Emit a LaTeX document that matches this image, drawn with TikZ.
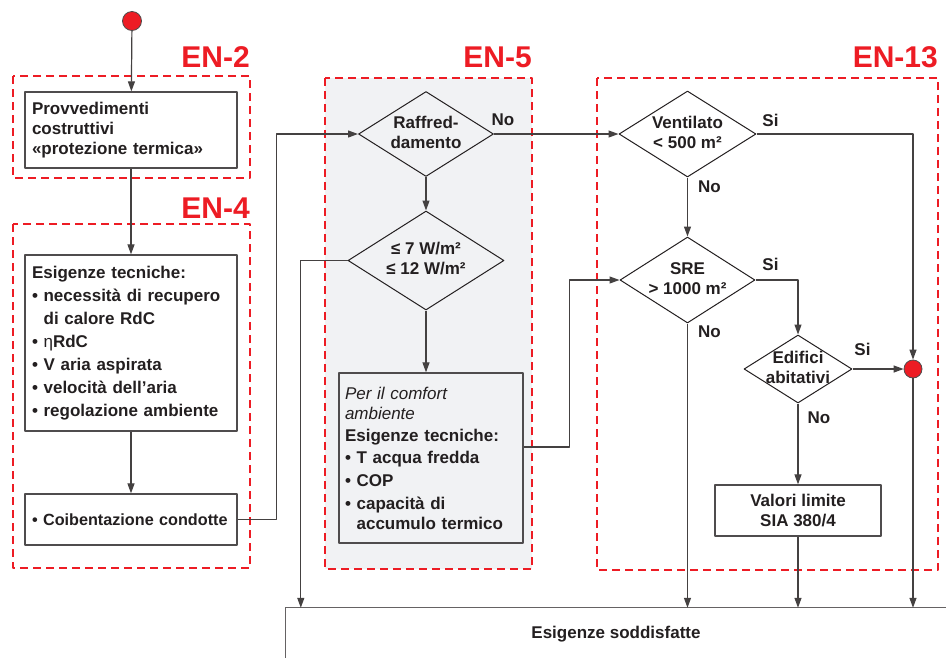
\documentclass[tikz,border=0pt]{standalone}
\usepackage{fontspec}
\setmainfont{Liberation Sans}
\usetikzlibrary{arrows.meta,shapes.geometric}
\definecolor{enred}{HTML}{ED1C24}
\definecolor{engray}{HTML}{F1F2F4}
\definecolor{ink}{HTML}{231F20}
\newcommand{\dtext}[1]{\makebox[0pt]{\begin{tabular}{@{}c@{}}#1\end{tabular}}}
\newcommand{\ind}{\hphantom{•\ }}
\begin{document}
\begin{tikzpicture}[x=1pt,y=-1pt,>={Triangle[length=10pt,width=7pt]},line join=round,
	font=\fontsize{17}{20}\selectfont\bfseries,text=ink,
	zone/.style={draw=enred,line width=2.6pt,dash pattern=on 8pt off 5pt},
	entag/.style={text=enred,font=\fontsize{30}{30}\selectfont\bfseries,anchor=base east,inner sep=0pt},
	box/.style={draw=ink!80,line width=1.3pt,rectangle,align=left,inner xsep=7pt,inner ysep=0pt},
	decision/.style={draw=ink,line width=1pt,diamond,inner sep=0pt},
	dot/.style={draw=ink!80,line width=0.8pt,circle,fill=enred,inner sep=0pt},
	flow/.style={draw=ink!85,line width=1.2pt},
	answer/.style={inner sep=0pt}]
	\useasboundingbox (0,0) rectangle (946,657);
	\filldraw[zone,fill=engray] (325,78) rectangle (532,569);
	\draw[zone] (13,76) rectangle (250,178)
	(13,224) rectangle (250,568)
	(597,78) rectangle (938,570);
	\node[entag] at (250,67) {EN-2};
	\node[entag] at (250,218) {EN-4};
	\node[entag] at (532,67) {EN-5};
	\node[entag] at (938,67) {EN-13};
	
	\node[dot,minimum size=19pt] (start) at (132,21) {};
	\node[box,minimum width=212pt,minimum height=76pt,text width=198pt] (prov) at (131,130)
	{Provvedimenti\\costruttivi\\«protezione termica»};
	\node[box,minimum width=212pt,minimum height=176pt,text width=198pt] (esig) at (131,343)
	{Esigenze tecniche:\\[3pt]• necessità di recupero\\[3pt]\ind di calore RdC\\[3pt]• {\mdseries η}RdC\\[3pt]• V aria aspirata\\[3pt]• velocità dell’aria\\[3pt]• regolazione ambiente};
	\node[box,minimum width=212pt,minimum height=51pt,text width=198pt,font=\fontsize{16.2}{20}\selectfont\bfseries] (coib) at (131,519.5)
	{\mbox{• Coibentazione condotte}};
	
	\node[decision,minimum width=135pt,minimum height=85pt] (raf) at (426,134) {\dtext{Raffred-\\damento}};
	\node[decision,minimum width=156pt,minimum height=99pt] (carico) at (426,260.5) {\dtext{≤ 7 W/m²\\≤ 12 W/m²}};
	\node[box,inner xsep=6pt,minimum width=184pt,minimum height=170pt,text width=172pt] (comf) at (431,458)
	{{\mdseries\itshape Per il comfort\\ambiente}\\[2pt]Esigenze tecniche:\\[2pt]• T acqua fredda\\[3pt]• COP\\[3pt]• capacità di\\\ind accumulo termico};
	
	\node[decision,minimum width=137pt,minimum height=86pt] (vent) at (687.5,134) {\dtext{Ventilato\\< 500 m²}};
	\node[decision,minimum width=135pt,minimum height=86pt] (sre) at (687.5,280) {\dtext{SRE\\> 1000 m²}};
	\node[decision,minimum width=108pt,minimum height=68pt] (edif) at (798,369) {\dtext{Edifici\\abitativi}};
	\node[dot,minimum size=18pt] (stop) at (913,369) {};
	\node[box,align=center,minimum width=166pt,minimum height=51pt] (val) at (798,510.5) {Valori limite\\SIA 380/4};
	\node[minimum width=660pt,minimum height=52pt,inner sep=0pt] (bar) at (616,634) {Esigenze soddisfatte};
	\draw[ink!70,line width=1.2pt] (bar.north east) -- (bar.north west) -- (bar.south west);
	
	\draw[flow,->] (start) -- (prov);
	\draw[flow,->] (prov) -- (esig);
	\draw[flow,->] (esig) -- (coib);
	\draw[flow,->] (coib.east) -- ++(39,0) |- (raf.west);
	\draw[flow,->] (raf) -- (carico);
	\draw[flow,->] (raf.east) -- (vent.west);
	\draw[flow,->] (carico.west) -| ([xshift=15pt]bar.north west);
	\draw[flow,->] (carico.south) -- (carico.south |- comf.north);
	\draw[flow,->] ([yshift=11pt]comf.east) -- ++(46,0) |- (sre.west);
	\draw[flow,->] (vent.east) -| (stop.north);
	\draw[flow,->] (vent) -- (sre);
	\draw[flow,->] (sre.east) -| (edif.north);
	\draw[flow,->] (sre.south) -- (sre.south |- bar.north);
	\draw[flow,->] (edif.east) -- (stop.west);
	\draw[flow,->] (edif) -- (val);
	\draw[flow,->] (val) -- (val |- bar.north);
	\draw[flow,->] (stop) -- (stop |- bar.north);
	
	\node[answer] at ([shift={(9,-14)}]raf.east) {No};
	\node[answer] at ([shift={(14,-14)}]vent.east) {Si};
	\node[answer] at ([shift={(22,9)}]vent.south) {No};
	\node[answer] at ([shift={(15,-16)}]sre.east) {Si};
	\node[answer] at ([shift={(22,8)}]sre.south) {No};
	\node[answer] at ([shift={(10,-20)}]edif.east) {Si};
	\node[answer] at ([shift={(21,14)}]edif.south) {No};
\end{tikzpicture}
\end{document}
